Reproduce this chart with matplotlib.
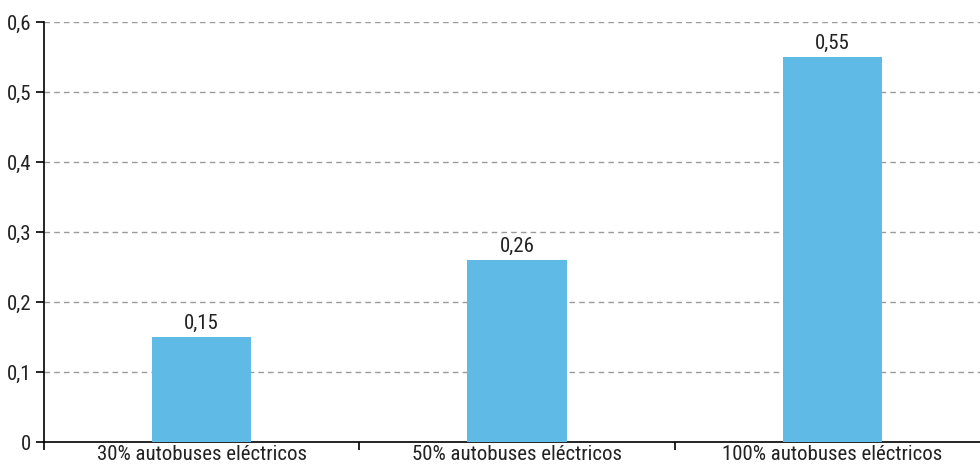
import matplotlib
matplotlib.use("Agg")
import matplotlib.pyplot as plt
from matplotlib.ticker import FixedLocator

plt.rcParams['font.family'] = ['Roboto Condensed', 'DejaVu Sans']

categories = ['30% autobuses eléctricos', '50% autobuses eléctricos', '100% autobuses eléctricos']
values = [0.15, 0.26, 0.55]
labels = ['0,15', '0,26', '0,55']
yticks = [0, 0.1, 0.2, 0.3, 0.4, 0.5, 0.6]
ytick_labels = ['0', '0,1', '0,2', '0,3', '0,4', '0,5', '0,6']

fig = plt.figure(figsize=(9.8, 4.68), dpi=100)
# axes runs slightly past the right edge, like the original
ax = fig.add_axes([44 / 980, 26 / 468, 946 / 980, 420 / 468])

x = range(len(categories))
ax.bar(x, values, width=0.314, color='#60bae6', zorder=3)
for xi, v, lab in zip(x, values, labels):
    ax.annotate(lab, (xi, v), xytext=(0, 3), textcoords='offset points',
                ha='center', va='bottom', fontsize=15, color='#222222')

ax.set_xlim(-0.5, len(categories) - 0.5)
ax.set_ylim(0, 0.6)
ax.set_yticks(yticks)
ax.set_yticklabels(ytick_labels, fontsize=15, color='#222222')
ax.set_xticks(list(x))
ax.set_xticklabels(categories, fontsize=15, color='#222222')
ax.tick_params(axis='x', which='major', length=0, pad=2)
ax.xaxis.set_minor_locator(FixedLocator([-0.5, 0.5, 1.5, 2.5]))
ax.tick_params(axis='x', which='minor', length=6, width=1.2, direction='out')
ax.tick_params(axis='y', length=6, width=1.2, pad=3)

for t in yticks[1:]:
    ax.axhline(t, color='#9a9a9a', linestyle=(0, (4, 3)), linewidth=1, zorder=1)

ax.spines['top'].set_visible(False)
ax.spines['right'].set_visible(False)
ax.spines['left'].set_linewidth(1.2)
ax.spines['bottom'].set_linewidth(1.2)

fig.savefig('out.png', dpi=100)
